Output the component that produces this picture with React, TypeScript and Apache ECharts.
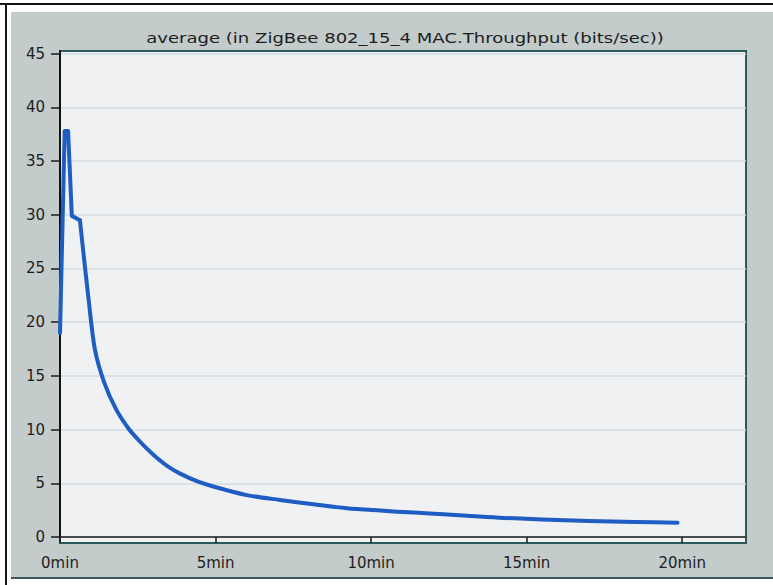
import React, { useEffect, useRef } from "react";
import * as echarts from "echarts";

const titleText = "average (in ZigBee 802_15_4 MAC.Throughput (bits/sec))";
const timeMinutes = [0, 0.15, 0.26, 0.38, 0.64, 0.74, 0.92, 1.12, 1.42, 1.8, 2.2, 2.5, 2.8, 3.1, 3.5, 3.86, 4.4, 4.93, 6.0, 7.07, 8.15, 9.22, 10.3, 11.36, 12.2, 13.2, 14.1, 15.5, 17, 18.5, 19.85];
const throughput = [19, 37.8, 37.8, 29.9, 29.5, 26.8, 22.1, 17.5, 14.4, 11.9, 10.1, 9.1, 8.2, 7.4, 6.5, 5.9, 5.2, 4.7, 3.9, 3.45, 3.05, 2.68, 2.46, 2.27, 2.15, 1.95, 1.8, 1.64, 1.5, 1.4, 1.33];
const startupPointCount = 5; // sharp start-up segment (0 .. 0.64 min)
const xTicks = [0, 5, 10, 15, 20];
const yTicks = [0, 5, 10, 15, 20, 25, 30, 35, 40, 45];
const xTickSuffix = "min";

export default function App() {
  const ref = useRef<HTMLDivElement>(null);
  useEffect(() => {
    if (!ref.current) return;
    const chart = echarts.init(ref.current, undefined, { renderer: "svg" });
    const data = timeMinutes.map((m, i) => [m, throughput[i]]);
    const lineStyle = { color: "#1f5cc4", width: 4, cap: "round", join: "round" };
    chart.setOption({
      animation: false,
      backgroundColor: "#ffffff",
      grid: { left: 60, right: 27, top: 51, bottom: 48, containLabel: false },
      graphic: [
        { type: "rect", z: -10, shape: { x: 0, y: 3, width: 773, height: 2 }, style: { fill: "#151515" } },
        { type: "rect", z: -10, shape: { x: 5, y: 3, width: 2, height: 582 }, style: { fill: "#151515" } },
        { type: "rect", z: -10, shape: { x: 11, y: 12, width: 762, height: 566 }, style: { fill: "#c3cbcb" } },
        { type: "rect", z: -10, shape: { x: 11, y: 577, width: 762, height: 2 }, style: { fill: "#3f5759" } },
        { type: "rect", z: -9, shape: { x: 60, y: 51, width: 686, height: 492 }, style: { fill: "#eff1f3" } },
        { type: "rect", z: 1, shape: { x: 60, y: 51, width: 686, height: 492 }, style: { fill: "none", stroke: "#2d5a5c", lineWidth: 2 } },
        {
          type: "text", z: 3, x: 405, y: 38, scaleX: 1.29,
          style: { text: titleText, fontSize: 14, fontFamily: "DejaVu Sans", fill: "#1e1e1e", align: "center", verticalAlign: "middle" },
        },
      ],
      xAxis: {
        type: "value",
        min: 0,
        max: 22.05,
        interval: 5,
        offset: 8,
        z: 2,
        axisLine: { show: true, lineStyle: { color: "#1a1a1a", width: 1.5 } },
        axisTick: { show: true, customValues: xTicks, length: 6, lineStyle: { color: "#1a1a1a", width: 1.5 } },
        axisLabel: {
          customValues: xTicks,
          margin: 10, fontSize: 15, fontFamily: "DejaVu Sans", color: "#1e1e1e",
          formatter: (v: number) => `${v}${xTickSuffix}`,
        },
        splitLine: { show: false },
      },
      yAxis: {
        type: "value",
        min: 0,
        max: 45.25,
        interval: 5,
        z: 2,
        axisLine: { show: true, lineStyle: { color: "#111111", width: 2 } },
        axisTick: { show: true, customValues: yTicks, length: 9, lineStyle: { color: "#1a1a1a", width: 1.5 } },
        axisLabel: { customValues: yTicks, margin: 15, fontSize: 15, fontFamily: "DejaVu Sans", color: "#1e1e1e" },
        splitLine: { show: true, lineStyle: { color: "#d3dde0", width: 1.5 } },
      },
      series: [
        {
          type: "line",
          name: "average",
          data: data.slice(0, startupPointCount),
          showSymbol: false,
          symbol: "none",
          smooth: false,
          z: 4,
          lineStyle,
        },
        {
          type: "line",
          name: "average",
          data: data.slice(startupPointCount - 1),
          showSymbol: false,
          symbol: "none",
          smooth: 0.3,
          z: 4,
          lineStyle,
        },
      ],
    });
    return () => chart.dispose();
  }, []);
  return <div ref={ref} style={{ position: "fixed", left: 0, top: 0, width: 773, height: 585 }} />;
}
